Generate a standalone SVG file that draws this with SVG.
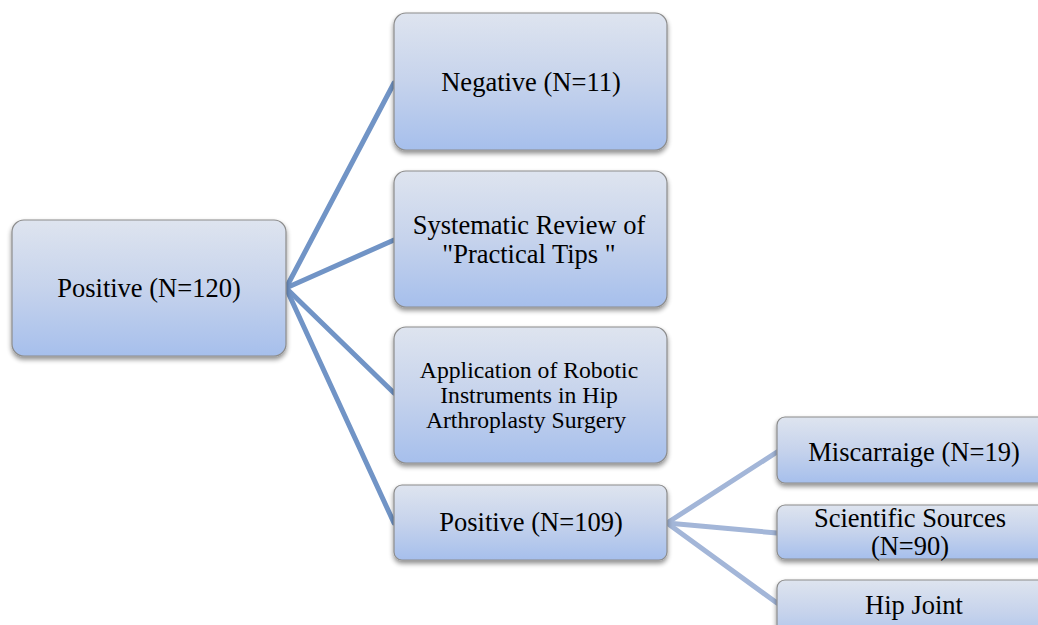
<svg xmlns="http://www.w3.org/2000/svg" width="1038" height="625" viewBox="0 0 1038 625">
  <defs>
    <linearGradient id="boxGrad" x1="0" y1="0" x2="0" y2="1">
      <stop offset="0" stop-color="#DEE4EF"/>
      <stop offset="0.5" stop-color="#C6D3EC"/>
      <stop offset="1" stop-color="#A6BFEC"/>
    </linearGradient>
    <filter id="shadow" x="-10%" y="-10%" width="120%" height="130%">
      <feGaussianBlur in="SourceAlpha" stdDeviation="2.5"/>
      <feOffset dx="0" dy="3" result="b"/>
      <feComponentTransfer><feFuncA type="linear" slope="0.45"/></feComponentTransfer>
      <feMerge><feMergeNode/><feMergeNode in="SourceGraphic"/></feMerge>
    </filter>
  </defs>
  <style>
    .box { fill: url(#boxGrad); stroke: #8C8C8C; stroke-width: 1.2; filter: url(#shadow); }
    .lbl { font-family: "Liberation Serif", "Times New Roman", serif; font-size: 26.5px; fill: #000; text-anchor: middle; }
    .sm { font-size: 23.7px; }
    .c1 { stroke: #7194C6; stroke-width: 5; fill: none; stroke-linecap: round; }
    .c2 { stroke: #A3B6D8; stroke-width: 5; fill: none; stroke-linecap: round; }
  </style>
  <rect width="1038" height="625" fill="#FFFFFF"/>

  <g id="connectors">
    <line class="c1" x1="286" y1="288" x2="394" y2="83"/>
    <line class="c1" x1="286" y1="288" x2="394" y2="240"/>
    <line class="c1" x1="286" y1="288" x2="394" y2="393"/>
    <line class="c1" x1="286" y1="288" x2="394" y2="523"/>
    <line class="c2" x1="667" y1="523" x2="777" y2="452"/>
    <line class="c2" x1="667" y1="523" x2="777" y2="533"/>
    <line class="c2" x1="667" y1="523" x2="777" y2="603"/>
  </g>

  <g id="node-root">
    <rect class="box" x="12" y="220" width="274" height="136" rx="12"/>
    <text class="lbl" x="149" y="297">Positive (N=120)</text>
  </g>

  <g id="node-negative">
    <rect class="box" x="394" y="13" width="273" height="137" rx="12"/>
    <text class="lbl" x="531" y="91">Negative (N=11)</text>
  </g>

  <g id="node-systematic">
    <rect class="box" x="394" y="171" width="273" height="136" rx="12"/>
    <text class="lbl" x="529" y="234">Systematic Review of</text>
    <text class="lbl" x="529" y="263">"Practical Tips "</text>
  </g>

  <g id="node-application">
    <rect class="box" x="394" y="327" width="273" height="136" rx="12"/>
    <text class="lbl sm" x="529" y="378">Application of Robotic</text>
    <text class="lbl sm" x="529" y="403">Instruments in Hip</text>
    <text class="lbl sm" x="526" y="428">Arthroplasty Surgery</text>
  </g>

  <g id="node-positive109">
    <rect class="box" x="394" y="485" width="273" height="75" rx="8"/>
    <text class="lbl" x="531" y="531">Positive (N=109)</text>
  </g>

  <g id="node-miscarraige">
    <rect class="box" x="777" y="417" width="274" height="66" rx="8"/>
    <text class="lbl" x="914" y="461">Miscarraige (N=19)</text>
  </g>

  <g id="node-scientific">
    <rect class="box" x="777" y="505" width="274" height="54" rx="8"/>
    <text class="lbl" x="910" y="527">Scientific Sources</text>
    <text class="lbl" x="910" y="555">(N=90)</text>
  </g>

  <g id="node-hipjoint">
    <rect class="box" x="777" y="580" width="274" height="66" rx="8"/>
    <text class="lbl" x="914" y="614">Hip Joint</text>
  </g>
</svg>
